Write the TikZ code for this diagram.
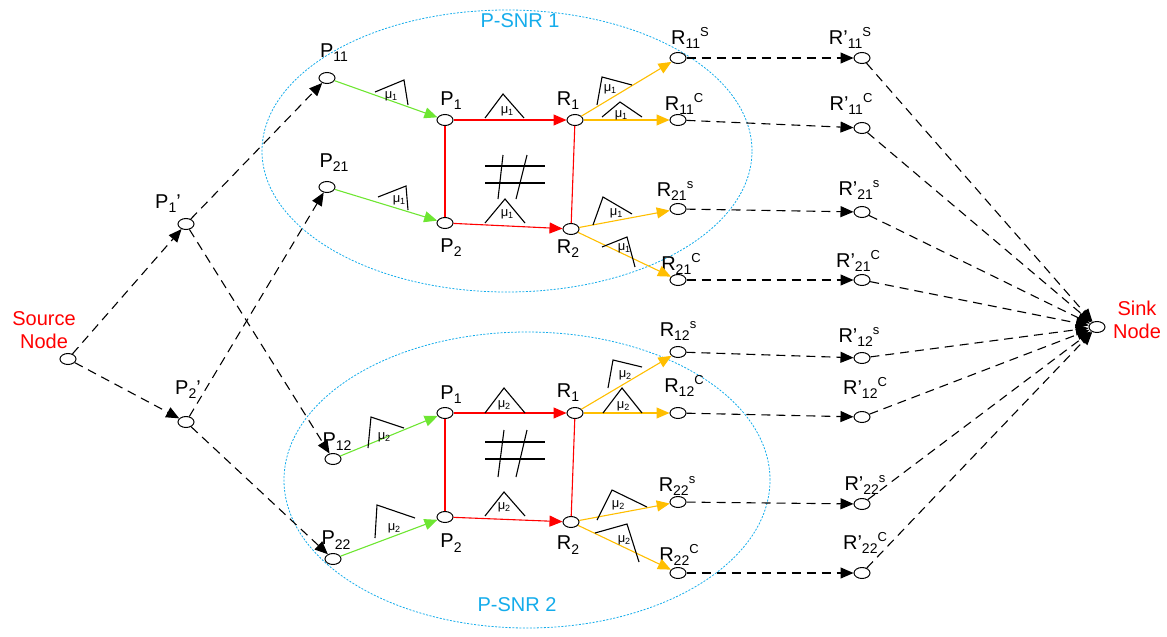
\documentclass[tikz,border=0pt]{standalone}
\usepackage{fontspec}
\setmainfont{Liberation Sans}
\usetikzlibrary{arrows.meta,shapes.geometric}
\definecolor{snr}{RGB}{20,172,235}
\definecolor{grn}{RGB}{110,230,50}
\definecolor{org}{RGB}{255,190,0}
\newcommand\lbl[3]{#1\raisebox{-0.4ex}{\fontsize{14}{14}\selectfont #2}\raisebox{0.8ex}{\fontsize{13}{13}\selectfont #3}}
\newcommand\mulbl[1]{\fontsize{13}{13}\selectfont μ\raisebox{-0.3ex}{\fontsize{9}{9}\selectfont #1}}
\begin{document}
\begin{tikzpicture}[x=1pt,y=-1pt,
  nd/.style={ellipse,draw,fill=white,minimum width=16pt,minimum height=11pt,inner sep=0pt,line width=1pt},
  txt/.style={font=\fontsize{20}{23}\selectfont,inner sep=0pt},
  red txt/.style={txt,text=red,align=center},
  snrtxt/.style={txt,text=snr},
  mu/.style={inner sep=0pt},
  dsh/.style={black,line width=1.1pt,dash pattern=on 9pt off 6pt,-{Triangle[length=13pt,width=11pt]}},
  col/.style={#1,line width=1.1pt,-{Triangle[length=13pt,width=11pt]}},
  edge/.style={red,line width=1.1pt},
  mk/.style={black,line width=1.1pt},
  oval/.style={snr,line width=0.8pt,dash pattern=on 2pt off 1.5pt}
]
\useasboundingbox (0,0) rectangle (1167,637);
% clusters
\draw[oval] (507,151) ellipse [x radius=245pt, y radius=141pt];
\draw[oval] (527,480) ellipse [x radius=243pt, y radius=148pt];
\node[snrtxt] (t1) at (520,21) {P-SNR 1};
\node[snrtxt] (t2) at (517,605) {P-SNR 2};

% nodes
\node[nd] (src) at (68,359) {};
\node[nd] (p1p) at (186,224) {};
\node[nd] (p2p) at (186,422) {};
\node[nd] (p11) at (327,78) {};
\node[nd] (p21) at (327,187) {};
\node[nd] (tP1) at (445,120) {};
\node[nd] (tP2) at (445,223) {};
\node[nd] (tR1) at (575,120) {};
\node[nd] (tR2) at (571,229) {};
\node[nd] (r11s) at (678,58) {};
\node[nd] (r11c) at (678,120) {};
\node[nd] (r21s) at (678,209) {};
\node[nd] (r21c) at (678,280) {};
\node[nd] (p12) at (333,459) {};
\node[nd] (p22) at (333,559) {};
\node[nd] (bP1) at (445,413) {};
\node[nd] (bP2) at (445,517) {};
\node[nd] (bR1) at (575,413) {};
\node[nd] (bR2) at (571,522) {};
\node[nd] (r12s) at (678,352) {};
\node[nd] (r12c) at (678,413) {};
\node[nd] (r22s) at (678,502) {};
\node[nd] (r22c) at (678,573) {};
\node[nd] (q11s) at (862,58) {};
\node[nd] (q11c) at (862,128) {};
\node[nd] (q21s) at (862,212) {};
\node[nd] (q21c) at (862,280) {};
\node[nd] (q12s) at (862,358) {};
\node[nd] (q12c) at (862,417) {};
\node[nd] (q22s) at (862,504) {};
\node[nd] (q22c) at (862,573) {};
\node[nd] (sink) at (1097,327) {};

% labels
\node[red txt] (lsrc) at (44,330) {Source\\Node};
\node[red txt] (lsink) at (1137,320) {Sink\\Node};
\node[txt] (lp1p) at (168,204) {P\raisebox{-0.4ex}{\fontsize{14}{14}\selectfont 1}\char"27};
\node[txt] (lp2p) at (188,390) {P\raisebox{-0.4ex}{\fontsize{14}{14}\selectfont 2}\char"27};
\node[txt] (lp11) at (334,53) {\lbl{P}{11}{}};
\node[txt] (lp21) at (334,163) {\lbl{P}{21}{}};
\node[txt] (ltP1) at (451,101) {\lbl{P}{1}{}};
\node[txt] (ltP2) at (451,248) {\lbl{P}{2}{}};
\node[txt] (ltR1) at (568,101) {\lbl{R}{1}{}};
\node[txt] (ltR2) at (568,249) {\lbl{R}{2}{}};
\node[txt] (lr11s) at (690,38) {\lbl{R}{11}{S}};
\node[txt] (lr11c) at (684,104) {\lbl{R}{11}{C}};
\node[txt] (lr21s) at (675,191) {\lbl{R}{21}{s}};
\node[txt] (lr21c) at (681,264) {\lbl{R}{21}{C}};
\node[txt] (lp12) at (337,442) {\lbl{P}{12}{}};
\node[txt] (lp22) at (336,540) {\lbl{P}{22}{}};
\node[txt] (lbP1) at (451,395) {\lbl{P}{1}{}};
\node[txt] (lbP2) at (451,543) {\lbl{P}{2}{}};
\node[txt] (lbR1) at (568,393) {\lbl{R}{1}{}};
\node[txt] (lbR2) at (568,545) {\lbl{R}{2}{}};
\node[txt] (lr12s) at (678,331) {\lbl{R}{12}{s}};
\node[txt] (lr12c) at (684,386) {\lbl{R}{12}{C}};
\node[txt] (lr22s) at (677,486) {\lbl{R}{22}{s}};
\node[txt] (lr22c) at (679,555) {\lbl{R}{22}{C}};
\node[txt] (lq11s) at (850,38) {\lbl{R’}{11}{S}};
\node[txt] (lq11c) at (851,104) {\lbl{R’}{11}{C}};
\node[txt] (lq21s) at (859,190) {\lbl{R’}{21}{s}};
\node[txt] (lq21c) at (858,261) {\lbl{R’}{21}{C}};
\node[txt] (lq12s) at (859,337) {\lbl{R’}{12}{s}};
\node[txt] (lq12c) at (865,388) {\lbl{R’}{12}{C}};
\node[txt] (lq22s) at (865,485) {\lbl{R’}{22}{s}};
\node[txt] (lq22c) at (865,543) {\lbl{R’}{22}{C}};

% dashed connectors
\draw[dsh] (src) -- (p1p);
\draw[dsh] (src) -- (p2p);
\draw[dsh] (p1p) -- (p11);
\draw[dsh] (p1p) -- (p12);
\draw[dsh] (p2p) -- (p21);
\draw[dsh] (p2p) -- (p22);
\foreach \a/\b in {r11s/q11s,r11c/q11c,r21s/q21s,r21c/q21c,r12s/q12s,r12c/q12c,r22s/q22s,r22c/q22c}
  \draw[dsh] (\a) -- (\b);
\foreach \a in {q11s,q11c,q21s,q21c,q12s,q12c,q22s,q22c}
  \draw[dsh] (\a) -- (sink);

% top cluster edges
\draw[col=grn] (p11) -- (tP1);
\draw[col=grn] (p21) -- (tP2);
\draw[col=red] (tP1) -- (tR1);
\draw[col=red] (tP2) -- (tR2);
\draw[edge] (tP1) -- (tP2);
\draw[edge] (tR1) -- (tR2);
\draw[col=org] (tR1) -- (r11s);
\draw[col=org] (tR1) -- (r11c);
\draw[col=org] (tR2) -- (r21s);
\draw[col=org] (tR2) -- (r21c);
% bottom cluster edges
\draw[col=grn] (p12) -- (bP1);
\draw[col=grn] (p22) -- (bP2);
\draw[col=red] (bP1) -- (bR1);
\draw[col=red] (bP2) -- (bR2);
\draw[edge] (bP1) -- (bP2);
\draw[edge] (bR1) -- (bR2);
\draw[col=org] (bR1) -- (r12s);
\draw[col=org] (bR1) -- (r12c);
\draw[col=org] (bR2) -- (r22s);
\draw[col=org] (bR2) -- (r22c);

% wedge marks, top
\draw[mk] (375,92) -- (404,80) -- (408,105);
\node[mu] (m1) at (391,96) {\mulbl{1}};
\draw[mk] (378,197) -- (406,186) -- (408,210);
\node[mu] (m2) at (399,200) {\mulbl{1}};
\draw[mk] (485,118) -- (503,94) -- (524,118);
\node[mu] (m3) at (507,111) {\mulbl{1}};
\draw[mk] (485,223) -- (505,199) -- (525,223);
\node[mu] (m4) at (507,214) {\mulbl{1}};
\draw[mk] (597,105) -- (602,77) -- (632,85);
\node[mu] (m5) at (610,89) {\mulbl{1}};
\draw[mk] (602,117) -- (620,102) -- (642,117);
\node[mu] (m6) at (621,115) {\mulbl{1}};
\draw[mk] (593,225) -- (603,197) -- (632,214);
\node[mu] (m7) at (616,213) {\mulbl{1}};
\draw[mk] (602,247) -- (627,237) -- (635,267);
\node[mu] (m8) at (624,248) {\mulbl{1}};
% hash top
\draw[mk] (485,166) -- (545,166);
\draw[mk] (485,183) -- (545,183);
\draw[mk] (503,155) -- (498,199);
\draw[mk] (527,155) -- (516,199);

% wedge marks, bottom
\draw[mk] (368,448) -- (371,417) -- (404,428);
\node[mu] (n1) at (384,437) {\mulbl{2}};
\draw[mk] (375,538) -- (377,505) -- (415,518);
\node[mu] (n2) at (394,528) {\mulbl{2}};
\draw[mk] (485,413) -- (504,388) -- (525,413);
\node[mu] (n3) at (504,405) {\mulbl{2}};
\draw[mk] (485,516) -- (504,492) -- (525,516);
\node[mu] (n4) at (504,507) {\mulbl{2}};
\draw[mk] (608,388) -- (613,360) -- (642,367);
\node[mu] (n5) at (625,375) {\mulbl{2}};
\draw[mk] (603,413) -- (622,388) -- (642,413);
\node[mu] (n6) at (623,406) {\mulbl{2}};
\draw[mk] (597,520) -- (612,490) -- (647,507);
\node[mu] (n7) at (618,505) {\mulbl{2}};
\draw[mk] (595,533) -- (627,524) -- (639,562);
\node[mu] (n8) at (624,540) {\mulbl{2}};
% hash bottom
\draw[mk] (485,442) -- (545,442);
\draw[mk] (485,459) -- (545,459);
\draw[mk] (504,430) -- (498,477);
\draw[mk] (527,430) -- (516,477);
\end{tikzpicture}
\end{document}
